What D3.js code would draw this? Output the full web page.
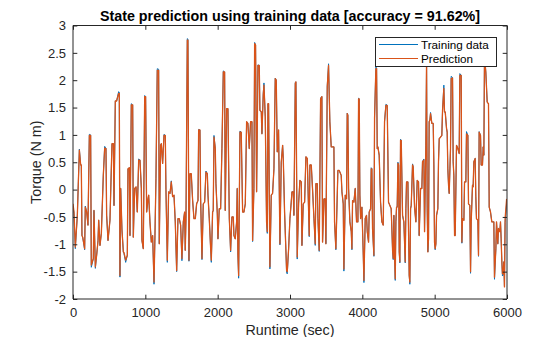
<!DOCTYPE html>
<html>
<head>
<meta charset="utf-8">
<script src="https://cdn.jsdelivr.net/npm/d3@7"></script>
<style>
  body { margin: 0; background: #fff; }
  svg { display: block; }
  text { font-family: "Liberation Sans", Arial, Helvetica, sans-serif; }
</style>
</head>
<body>
<svg id="chart" width="560" height="337"></svg>
<script>
// Runtime samples (seconds)
const runtime = [
  0,14,32,60,74,88,106,115,124,134,
  161,170,189,207,226,244,253,281,290,309,
  327,346,355,373,392,419,438,456,465,484,
  511,539,558,567,585,603,631,640,649,659,
  677,696,705,728,751,760,779,788,806,825,
  834,852,871,889,908,926,945,953,972,991,
  1004,1018,1037,1046,1064,1083,1101,1120,1133,1147,
  1165,1184,1193,1211,1221,1239,1258,1276,1285,1304,
  1322,1341,1359,1377,1396,1414,1433,1451,1469,1488,
  1506,1525,1543,1552,1562,1580,1589,1603,1617,1635,
  1654,1672,1691,1709,1728,1737,1755,1764,1783,1801,
  1820,1838,1857,1866,1884,1903,1912,1930,1939,1949,
  1967,1976,1995,2004,2022,2041,2059,2078,2096,2105,
  2124,2142,2161,2179,2197,2216,2225,2243,2262,2271,
  2280,2290,2308,2326,2345,2363,2382,2400,2418,2437,
  2455,2474,2483,2501,2511,2524,2538,2557,2575,2584,
  2603,2612,2630,2640,2658,2676,2686,2695,2704,2722,
  2741,2759,2778,2796,2810,2824,2842,2861,2879,2898,
  2907,2925,2944,2953,2962,2981,2999,3017,3027,3045,
  3054,3073,3082,3100,3119,3137,3156,3165,3183,3202,
  3220,3239,3248,3266,3275,3294,3312,3331,3349,3358,
  3377,3386,3404,3423,3441,3450,3469,3487,3496,3515,
  3533,3551,3570,3588,3607,3616,3634,3644,3662,3680,
  3699,3708,3718,3736,3745,3764,3782,3791,3800,3810,
  3828,3847,3856,3865,3883,3902,3920,3939,3948,3957,
  3966,3976,3994,4012,4022,4040,4058,4068,4086,4095,
  4114,4123,4132,4141,4160,4169,4187,4197,4206,4215,
  4233,4252,4270,4289,4307,4326,4344,4362,4381,4399,
  4418,4427,4436,4445,4455,4464,4473,4482,4492,4501,
  4510,4519,4528,4538,4556,4574,4593,4602,4611,4630,
  4639,4648,4657,4667,4676,4694,4703,4722,4740,4759,
  4777,4786,4805,4823,4832,4851,4860,4878,4888,4897,
  4906,4915,4924,4934,4943,4961,4980,4989,4998,5007,
  5017,5026,5044,5053,5063,5081,5099,5109,5127,5136,
  5146,5164,5173,5182,5192,5201,5219,5228,5247,5256,
  5265,5275,5284,5302,5321,5339,5348,5367,5376,5385,
  5404,5413,5431,5440,5459,5468,5486,5496,5505,5523,
  5532,5542,5560,5569,5578,5597,5606,5615,5634,5643,
  5661,5671,5680,5689,5707,5726,5744,5754,5772,5790,
  5800,5818,5827,5846,5855,5873,5882,5901,5910,5919,
  5928,5937,5947,5956,5965,5974,5995
];

// Measured torque (N m)
const trainingData = [
  -0.30,-0.44,-1.08,-0.47,0.14,0.74,0.45,0.45,-0.84,-0.87,
  -1.10,-0.30,-0.41,-0.65,1.01,1.00,-1.42,-1.26,-0.38,-1.44,
  -1.20,-0.93,-0.56,-1.02,-0.80,0.26,0.79,0.75,-0.47,-0.93,
  -0.56,0.84,0.84,-0.29,1.62,1.62,1.79,1.78,-1.60,0.02,
  -0.74,-1.14,-1.17,-1.33,-1.20,0.38,0.40,-0.84,1.57,1.55,
  -0.87,0.02,0.05,-0.41,0.56,0.54,0.02,-0.93,-1.08,1.72,
  1.70,-0.41,-0.17,-0.10,-0.59,-0.96,-0.84,-1.73,-0.84,0.20,
  2.21,2.20,-0.99,0.81,0.84,0.48,1.01,0.99,0.00,-1.33,
  -0.04,-0.07,0.16,-0.13,-0.10,-0.59,-1.50,-0.53,-0.53,-0.65,
  -1.30,-0.59,-0.41,-1.11,-0.53,2.76,2.75,-1.31,0.29,0.29,
  -0.20,-0.53,-0.53,-0.26,-0.20,1.10,1.09,-0.14,-1.28,-0.26,
  -0.23,0.34,0.29,-0.10,-0.53,-1.08,-1.33,-0.41,-0.38,0.99,
  0.75,0.11,-0.44,-0.90,-0.35,-0.35,0.75,2.17,2.15,-0.38,
  1.48,1.48,-0.53,-1.14,-0.50,-0.50,-0.84,-0.90,-0.59,0.02,
  -1.20,-1.62,1.07,1.05,-0.41,-0.41,-0.26,1.24,1.21,0.75,
  1.24,1.24,-0.95,0.02,2.69,2.64,-0.04,2.28,2.27,1.45,
  1.42,1.02,1.76,1.95,1.33,-0.59,-0.80,1.57,1.57,-1.45,
  -0.10,-0.07,0.38,2.04,2.00,0.69,1.09,-1.01,0.50,0.81,
  0.57,-0.41,-1.14,-1.52,-1.54,-1.08,-0.53,-0.23,-0.04,-0.04,
  -0.47,1.96,1.97,-1.27,-0.26,0.17,0.14,-1.02,-0.26,-0.23,
  0.60,0.57,0.08,-0.86,0.45,0.45,0.00,-0.53,-1.02,0.11,
  0.11,-0.53,-1.13,1.68,1.70,-0.96,-0.17,-0.17,-0.99,1.90,
  2.30,1.24,0.78,0.78,0.78,-0.59,-1.10,-0.59,0.35,0.35,
  0.29,0.26,-0.04,-0.26,-1.49,-0.10,-0.17,1.40,1.36,0.02,
  -0.59,-0.77,-1.10,-0.20,-0.23,0.02,-0.59,-0.59,1.67,1.66,
  -0.10,-0.53,-0.32,-1.14,-1.70,-0.53,-0.47,-0.77,-0.96,-0.41,
  -0.35,0.40,0.38,-0.71,-1.22,1.30,2.24,2.22,0.75,0.78,
  0.63,-0.23,-0.59,-0.65,1.24,1.56,1.54,-0.23,-0.29,-0.35,
  -1.11,-1.28,-0.47,-1.20,-1.66,-0.59,-0.32,-0.32,0.50,0.45,
  -1.14,-1.34,0.92,0.90,-0.47,-0.59,-1.34,-0.35,0.14,0.14,
  -0.77,-1.57,-1.73,-0.35,-0.29,0.47,0.42,-0.32,-0.59,0.17,
  0.14,-0.84,0.02,0.02,0.51,0.56,-0.77,0.81,2.30,-0.35,
  -1.14,-0.90,1.24,1.27,1.41,1.21,1.21,0.45,-0.96,-1.10,
  -0.99,-0.47,-0.35,0.51,0.93,0.96,0.99,1.45,1.91,1.42,
  1.42,1.12,1.05,0.38,0.08,-0.07,0.75,2.07,2.05,0.51,
  0.26,-0.84,-0.84,0.81,0.75,0.66,2.12,2.09,-0.98,-0.53,
  -0.56,0.14,0.14,1.06,0.99,-0.26,-0.29,-1.53,-0.59,0.08,
  0.05,0.51,0.57,-0.13,-0.53,-0.56,-1.22,1.06,0.99,0.45,
  0.45,0.78,0.63,2.45,2.15,1.60,1.57,-0.32,-0.41,-0.59,
  -0.59,-0.59,-1.64,-1.08,-0.59,-0.99,-0.71,-0.77,-0.59,-0.90,
  -1.29,-1.58,-1.56,-1.32,-1.76,-0.60,-0.25
];

// Predicted torque (N m)
const prediction = [
  -0.26,-0.41,-1.05,-0.47,0.14,0.72,0.45,0.45,-0.84,-0.87,
  -1.08,-0.32,-0.41,-0.65,0.99,0.99,-1.38,-1.26,-0.38,-1.41,
  -1.20,-0.93,-0.56,-1.02,-0.80,0.26,0.76,0.75,-0.47,-0.93,
  -0.56,0.84,0.84,-0.29,1.62,1.62,1.76,1.76,-1.57,0.02,
  -0.74,-1.14,-1.15,-1.29,-1.20,0.38,0.40,-0.84,1.55,1.55,
  -0.87,0.02,0.05,-0.41,0.54,0.54,0.02,-0.93,-1.08,1.70,
  1.70,-0.41,-0.17,-0.10,-0.59,-0.96,-0.84,-1.69,-0.84,0.20,
  2.18,2.18,-0.99,0.81,0.84,0.48,0.99,0.99,0.00,-1.29,
  -0.04,-0.07,0.14,-0.13,-0.10,-0.59,-1.48,-0.53,-0.53,-0.65,
  -1.26,-0.59,-0.41,-1.11,-0.53,2.73,2.73,-1.29,0.29,0.29,
  -0.20,-0.53,-0.53,-0.26,-0.20,1.09,1.09,-0.14,-1.26,-0.26,
  -0.23,0.32,0.29,-0.10,-0.53,-1.08,-1.29,-0.41,-0.38,0.96,
  0.75,0.11,-0.44,-0.90,-0.35,-0.35,0.75,2.15,2.15,-0.38,
  1.48,1.48,-0.53,-1.11,-0.50,-0.50,-0.84,-0.90,-0.59,0.02,
  -1.20,-1.57,1.05,1.05,-0.41,-0.41,-0.26,1.24,1.21,0.75,
  1.24,1.24,-0.93,0.02,2.67,2.64,-0.04,2.27,2.27,1.45,
  1.42,1.02,1.73,1.91,1.33,-0.59,-0.77,1.57,1.57,-1.41,
  -0.10,-0.07,0.38,2.03,2.00,0.69,1.09,-0.99,0.50,0.81,
  0.57,-0.41,-1.14,-1.48,-1.50,-1.08,-0.53,-0.23,-0.04,-0.04,
  -0.47,1.94,1.97,-1.23,-0.26,0.17,0.14,-1.02,-0.26,-0.23,
  0.60,0.57,0.08,-0.84,0.45,0.45,0.00,-0.53,-0.99,0.11,
  0.11,-0.53,-1.11,1.66,1.70,-0.96,-0.17,-0.17,-0.99,1.88,
  2.27,1.24,0.78,0.78,0.78,-0.59,-1.08,-0.59,0.35,0.35,
  0.29,0.26,-0.04,-0.26,-1.45,-0.10,-0.17,1.39,1.36,0.02,
  -0.59,-0.77,-1.08,-0.20,-0.23,0.02,-0.59,-0.59,1.66,1.66,
  -0.10,-0.53,-0.32,-1.14,-1.66,-0.53,-0.47,-0.77,-0.96,-0.41,
  -0.35,0.38,0.38,-0.71,-1.20,1.30,2.21,2.21,0.75,0.78,
  0.63,-0.23,-0.59,-0.65,1.24,1.54,1.54,-0.23,-0.29,-0.35,
  -1.11,-1.26,-0.47,-1.20,-1.63,-0.59,-0.32,-0.32,0.48,0.45,
  -1.14,-1.32,0.90,0.90,-0.47,-0.59,-1.32,-0.35,0.14,0.14,
  -0.77,-1.57,-1.69,-0.35,-0.29,0.45,0.42,-0.32,-0.59,0.17,
  0.14,-0.84,0.02,0.02,0.51,0.54,-0.77,0.81,2.35,-0.35,
  -1.14,-0.90,1.24,1.27,1.39,1.21,1.21,0.45,-0.96,-1.08,
  -0.99,-0.47,-0.35,0.51,0.93,0.96,0.99,1.45,1.85,1.42,
  1.42,1.12,1.05,0.38,0.08,-0.07,0.75,2.03,2.04,0.51,
  0.26,-0.84,-0.84,0.81,0.75,0.66,2.09,2.09,-0.96,-0.53,
  -0.56,0.14,0.14,1.02,0.99,-0.26,-0.29,-1.50,-0.59,0.08,
  0.05,0.51,0.57,-0.13,-0.53,-0.56,-1.20,1.05,0.99,0.45,
  0.45,0.78,0.63,2.43,2.15,1.60,1.57,-0.32,-0.41,-0.59,
  -0.59,-0.59,-1.60,-1.08,-0.59,-0.99,-0.71,-0.77,-0.59,-0.90,
  -1.29,-1.54,-1.54,-1.32,-1.78,-0.53,-0.17
];

const xTicks = [0, 1000, 2000, 3000, 4000, 5000, 6000];
const yTicks = [-2, -1.5, -1, -0.5, 0, 0.5, 1, 1.5, 2, 2.5, 3];
const seriesNames = ["Training data", "Prediction"];
const seriesColors = ["#0072BD", "#D95319"];
const seriesWidths = [1, 1.3];
const titleText = "State prediction using training data [accuracy = 91.62%]";
const xLabelText = "Runtime (sec)";
const yLabelText = "Torque (N m)";

const axisColor = "#262626";
const box = { left: 73, right: 507, top: 25.5, bottom: 299 };
const tickLen = 4.3;

const svg = d3.select("#chart");
svg.append("rect").attr("width", 560).attr("height", 337).attr("fill", "#fff");

const x = d3.scaleLinear().domain([0, 6000]).range([box.left, box.right]);
const y = d3.scaleLinear().domain([-2, 3]).range([box.bottom, box.top]);

// Clip region for the data lines
svg.append("defs").append("clipPath").attr("id", "plotClip")
  .append("rect")
  .attr("x", box.left).attr("y", box.top)
  .attr("width", box.right - box.left).attr("height", box.bottom - box.top);

const points = (vals) => runtime.map((t, i) => [t, vals[i]]);
const line = d3.line().x(d => x(d[0])).y(d => y(d[1]));

const plot = svg.append("g").attr("clip-path", "url(#plotClip)");
[trainingData, prediction].forEach((vals, i) => {
  plot.append("path")
    .datum(points(vals))
    .attr("fill", "none")
    .attr("stroke", seriesColors[i])
    .attr("stroke-width", seriesWidths[i])
    .attr("stroke-linejoin", "round")
    .attr("d", line);
});

// Axes with inward ticks on all four sides
const fmt = d => String(d);
const axisFont = "13px";

const bottomAxis = d3.axisBottom(x).tickValues(xTicks).tickSize(-tickLen).tickPadding(9).tickFormat(fmt);
const topAxis = d3.axisTop(x).tickValues(xTicks).tickSize(-tickLen).tickFormat("");
const leftAxis = d3.axisLeft(y).tickValues(yTicks).tickSize(-tickLen).tickPadding(7).tickFormat(fmt);
const rightAxis = d3.axisRight(y).tickValues(yTicks).tickSize(-tickLen).tickFormat("");

function styleAxis(g) {
  g.selectAll(".domain").attr("stroke", axisColor).attr("stroke-width", 1);
  g.selectAll(".tick line").attr("stroke", axisColor).attr("stroke-width", 1);
  g.selectAll(".tick text").attr("fill", axisColor)
    .style("font-size", axisFont)
    .style("font-family", '"Liberation Sans", Arial, Helvetica, sans-serif');
  g.attr("font-family", null).attr("font-size", null);
}

svg.append("g").attr("transform", `translate(0,${box.bottom})`).call(bottomAxis).call(styleAxis)
  .call(g => g.selectAll(".domain").attr("d", `M${box.left},0H${box.right}`));
svg.append("g").attr("transform", `translate(0,${box.top})`).call(topAxis).call(styleAxis)
  .call(g => g.selectAll(".domain").attr("d", `M${box.left},0H${box.right}`));
svg.append("g").attr("transform", `translate(${box.left},0)`).call(leftAxis).call(styleAxis)
  .call(g => g.selectAll(".domain").attr("d", `M0,${box.top}V${box.bottom}`));
svg.append("g").attr("transform", `translate(${box.right},0)`).call(rightAxis).call(styleAxis)
  .call(g => g.selectAll(".domain").attr("d", `M0,${box.top}V${box.bottom}`));

// Title and axis labels
svg.append("text")
  .attr("x", (box.left + box.right) / 2).attr("y", 21)
  .attr("text-anchor", "middle")
  .attr("fill", "#000")
  .style("font-size", "14.3px").style("font-weight", "bold")
  .text(titleText);

svg.append("text")
  .attr("x", (box.left + box.right) / 2).attr("y", 335)
  .attr("text-anchor", "middle")
  .attr("fill", axisColor)
  .style("font-size", "14.3px")
  .text(xLabelText);

svg.append("text")
  .attr("transform", `translate(41,${(box.top + box.bottom) / 2}) rotate(-90)`)
  .attr("text-anchor", "middle")
  .attr("fill", axisColor)
  .style("font-size", "14.3px")
  .text(yLabelText);

// Legend
const lg = svg.append("g");
lg.append("rect")
  .attr("x", 375.5).attr("y", 37.5).attr("width", 121).attr("height", 29)
  .attr("fill", "#fff").attr("stroke", axisColor).attr("stroke-width", 1);
seriesNames.forEach((name, i) => {
  const cy = 44.5 + i * 14;
  lg.append("line")
    .attr("x1", 379).attr("x2", 418).attr("y1", cy).attr("y2", cy)
    .attr("stroke", seriesColors[i]).attr("stroke-width", 1);
  lg.append("text")
    .attr("x", 421).attr("y", cy + 4.2)
    .attr("fill", "#000")
    .style("font-size", "11.7px")
    .text(name);
});
</script>
</body>
</html>
